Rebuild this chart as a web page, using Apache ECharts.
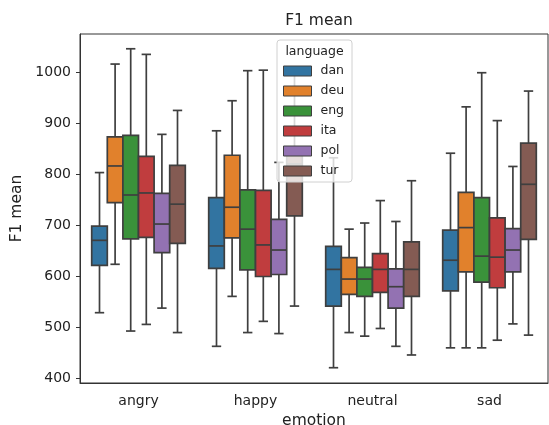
<!DOCTYPE html>
<html>
<head>
<meta charset="utf-8">
<script src="https://cdn.jsdelivr.net/npm/echarts@6/dist/echarts.min.js"></script>
<style>html,body{margin:0;padding:0;background:#fff}#c{width:549px;height:425px}</style>
</head>
<body>
<div id="c"></div>
<script>
// ---- data ----
const categories = ['angry', 'happy', 'neutral', 'sad'];
const languages = ['dan', 'deu', 'eng', 'ita', 'pol', 'tur'];
const yTicks = [400, 500, 600, 700, 800, 900, 1000];
// [whisker low, Q1, median, Q3, whisker high] per emotion
const dan = [[528, 621, 670, 698, 803], [462, 615, 659, 754, 885], [420, 541, 613, 658, 832], [459, 571, 631, 690, 841]];
const deu = [[623, 744, 816, 873, 1016], [560, 675, 735, 837, 944], [489, 564, 594, 636, 692], [459, 608, 695, 764, 932]];
const eng = [[492, 673, 759, 876, 1046], [489, 612, 692, 769, 1003], [482, 560, 594, 617, 704], [459, 588, 639, 754, 999]];
const ita = [[505, 676, 763, 835, 1035], [511, 599, 661, 768, 1004], [497, 568, 613, 644, 748], [474, 577, 637, 714, 905]];
const pol = [[537, 646, 702, 762, 878], [487, 603, 651, 711, 823], [462, 537, 579, 614, 707], [506, 608, 651, 693, 815]];
const tur = [[489, 664, 741, 817, 925], [541, 718, 820, 847, 1000], [445, 560, 613, 667, 787], [484, 672, 780, 861, 963]];
const seriesData = [dan, deu, eng, ita, pol, tur];
const colors = ['#3274a1', '#e1812c', '#3a923a', '#c03d3e', '#9372b2', '#845b53'];

const FONT = 'DejaVu Sans';
const EDGE = '#3f3f3f';
const LW = 1.7;
const chart = echarts.init(document.getElementById('c'));
const nSeries = languages.length;

const series = languages.map((name, i) => ({
  name: name,
  type: 'custom',
  data: seriesData[i].map((d, ci) => [ci].concat(d)),
  encode: { x: 0, y: [1, 2, 3, 4, 5] },
  itemStyle: { color: colors[i] },
  z: 2,
  renderItem: function (params, api) {
    const ci = api.value(0);
    const band = api.size([1, 0])[0];
    const w = band * 0.8 / nSeries;
    const cx = api.coord([ci, 0])[0] + (i - (nSeries - 1) / 2) * w;
    const py = k => api.coord([ci, api.value(k)])[1];
    const lo = py(1), q1 = py(2), md = py(3), q3 = py(4), hi = py(5);
    const ls = { stroke: EDGE, lineWidth: LW };
    const cap = w * 0.3;
    return {
      type: 'group',
      children: [
        { type: 'line', shape: { x1: cx, y1: hi, x2: cx, y2: q3 }, style: ls },
        { type: 'line', shape: { x1: cx, y1: q1, x2: cx, y2: lo }, style: ls },
        { type: 'line', shape: { x1: cx - cap, y1: hi, x2: cx + cap, y2: hi }, style: ls },
        { type: 'line', shape: { x1: cx - cap, y1: lo, x2: cx + cap, y2: lo }, style: ls },
        { type: 'rect', shape: { x: cx - w / 2, y: q3, width: w, height: q1 - q3 },
          style: { fill: colors[i], stroke: EDGE, lineWidth: LW } },
        { type: 'line', shape: { x1: cx - w / 2, y1: md, x2: cx + w / 2, y2: md }, style: ls }
      ]
    };
  }
}));

chart.setOption({
  animation: false,
  textStyle: { fontFamily: FONT },
  title: {
    text: 'F1 mean', left: 314, textAlign: 'center', top: 8,
    textStyle: { fontFamily: FONT, fontSize: 15.5, fontWeight: 'normal', color: '#222' }
  },
  grid: { left: 80, right: 1, top: 34, bottom: 42, show: true, borderColor: '#333', borderWidth: 1,
          backgroundColor: 'transparent', outerBoundsMode: 'none', containLabel: false },
  xAxis: {
    type: 'category', data: categories,
    name: 'emotion', nameLocation: 'middle', nameGap: 30,
    nameTextStyle: { fontFamily: FONT, fontSize: 15.5, color: '#222' },
    axisLine: { lineStyle: { color: '#333', width: 1 } },
    axisTick: { alignWithLabel: true, length: 4, lineStyle: { color: '#333' } },
    axisLabel: { fontFamily: FONT, fontSize: 14, color: '#222', margin: 11 },
    splitLine: { show: false }
  },
  yAxis: {
    type: 'value', min: 390, max: 1075,
    name: 'F1 mean', nameLocation: 'middle', nameGap: 47, nameRotate: 90,
    nameTextStyle: { fontFamily: FONT, fontSize: 15.5, color: '#222' },
    axisLine: { show: true, lineStyle: { color: '#333', width: 1 } },
    axisTick: { show: true, length: 4, customValues: yTicks, lineStyle: { color: '#333' } },
    axisLabel: { fontFamily: FONT, fontSize: 14, color: '#222', margin: 9, customValues: yTicks,
                 formatter: v => String(v) },
    splitLine: { show: false }
  },
  legend: {
    data: languages.map((n, i) => ({ name: n, itemStyle: { color: colors[i], borderColor: EDGE, borderWidth: 1 } })),
    orient: 'vertical', left: 283, top: 64, padding: 0,
    itemWidth: 28, itemHeight: 10, itemGap: 6, icon: 'rect',
    textStyle: { fontFamily: FONT, fontSize: 12.5, color: '#222', lineHeight: 14, padding: [0, 0, 0, 4] },
    selectedMode: false, z: 120
  },
  graphic: [
    { type: 'rect', z: 100, shape: { x: 277, y: 40, width: 75, height: 142, r: 3 },
      style: { fill: 'rgba(255,255,255,0.8)', stroke: '#d0d0d0', lineWidth: 1 } },
    { type: 'text', z: 110, x: 314.5, y: 52,
      style: { text: 'language', fill: '#222', font: '12.5px "DejaVu Sans"', align: 'center', verticalAlign: 'middle' } }
  ],
  series: series
});
</script>
</body>
</html>
